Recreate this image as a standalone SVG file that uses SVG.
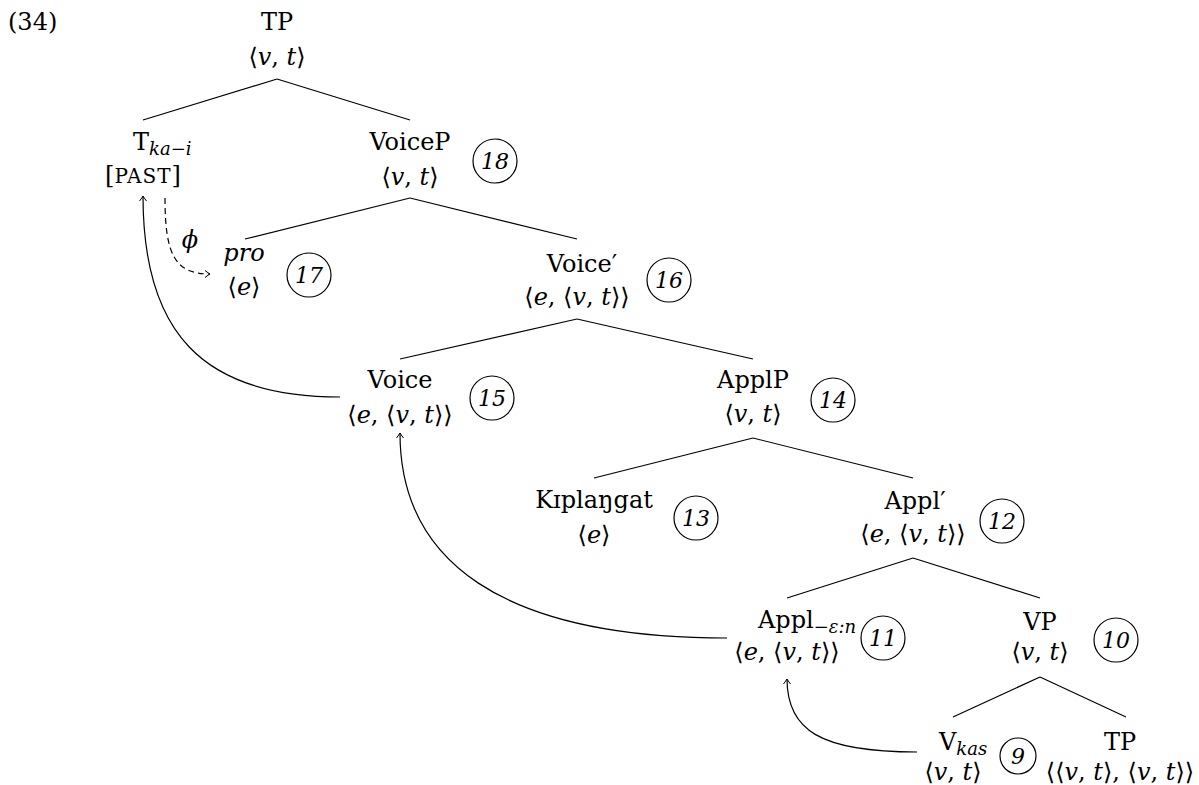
<svg xmlns="http://www.w3.org/2000/svg" width="1199" height="785" viewBox="0 0 1199 785">
<defs>
<style>
text{font-family:"DejaVu Serif","Liberation Serif",serif;font-size:24px;fill:#000}
.m{text-anchor:middle}
.i{font-style:italic}
.sub{font-size:18px;font-style:italic}
.sc{font-size:20px;letter-spacing:1px}
.num{font-style:italic;font-size:22px;text-anchor:middle}
.c{fill:none;stroke:#000;stroke-width:1.2}
.e{stroke:#000;stroke-width:1.2;fill:none}
.mv{stroke:#000;stroke-width:1.2;fill:none;marker-end:url(#ah)}
.dash{stroke-dasharray:6,4}
</style>
<marker id="ah" markerUnits="userSpaceOnUse" markerWidth="12" markerHeight="12" refX="0" refY="0" viewBox="-8 -6 10 12" orient="auto">
<path d="M-5,-3.5 Q-1.5,-0.8 0,0 Q-1.5,0.8 -5,3.5" fill="none" stroke="#000" stroke-width="1"/>
</marker>
</defs>
<text x="8" y="30" font-size="26">(34)</text>

<g id="connectors">
<line class="e" x1="277" y1="79" x2="143" y2="120"/>
<line class="e" x1="277" y1="79" x2="410" y2="120"/>
<line class="e" x1="410" y1="198" x2="245" y2="239"/>
<line class="e" x1="410" y1="198" x2="577" y2="239"/>
<line class="e" x1="577" y1="319" x2="400" y2="359"/>
<line class="e" x1="577" y1="319" x2="753" y2="359"/>
<line class="e" x1="753" y1="438" x2="594" y2="478"/>
<line class="e" x1="753" y1="438" x2="913" y2="478"/>
<line class="e" x1="913" y1="558" x2="787" y2="598"/>
<line class="e" x1="913" y1="558" x2="1040" y2="598"/>
<line class="e" x1="1040" y1="677" x2="953" y2="717"/>
<line class="e" x1="1040" y1="677" x2="1126" y2="717"/>
<path class="mv" d="M340,397 C200,397 143,330 143,196"/>
<path class="mv" d="M727,638 C500,638 400,560 400,433"/>
<path class="mv" d="M917,752 C820,752 787,730 787,679"/>
<path class="mv dash" d="M165,198 C165,255 175,274 210,274"/>
<text x="190" y="248" class="m i">ϕ</text>
</g>

<g id="TP">
<text x="277" y="30" class="m">TP</text>
<text x="277" y="65" class="m">⟨<tspan class="i">v</tspan>, <tspan class="i">t</tspan>⟩</text>
</g>
<g id="T">
<text x="133" y="150">T<tspan class="sub" dy="5">ka−i</tspan></text>
<text x="143" y="183" class="m">[<tspan class="sc">PAST</tspan>]</text>
</g>
<g id="VoiceP">
<text x="410" y="150" class="m">VoiceP</text>
<text x="410" y="185" class="m">⟨<tspan class="i">v</tspan>, <tspan class="i">t</tspan>⟩</text>
<circle class="c" cx="495" cy="161" r="22"/><text x="495" y="169" class="num">18</text>
</g>
<g id="pro">
<text x="244" y="261" class="m i">pro</text>
<text x="244" y="295" class="m">⟨<tspan class="i">e</tspan>⟩</text>
<circle class="c" cx="309" cy="275" r="22"/><text x="309" y="283" class="num">17</text>
</g>
<g id="VoiceBar">
<text x="582" y="272" class="m">Voice′</text>
<text x="577" y="305" class="m">⟨<tspan class="i">e</tspan>, ⟨<tspan class="i">v</tspan>, <tspan class="i">t</tspan>⟩⟩</text>
<circle class="c" cx="669" cy="280" r="22"/><text x="669" y="288" class="num">16</text>
</g>
<g id="Voice">
<text x="400" y="388" class="m">Voice</text>
<text x="400" y="423" class="m">⟨<tspan class="i">e</tspan>, ⟨<tspan class="i">v</tspan>, <tspan class="i">t</tspan>⟩⟩</text>
<circle class="c" cx="492" cy="398" r="22"/><text x="492" y="406" class="num">15</text>
</g>
<g id="ApplP">
<text x="753" y="388" class="m">ApplP</text>
<text x="753" y="422" class="m">⟨<tspan class="i">v</tspan>, <tspan class="i">t</tspan>⟩</text>
<circle class="c" cx="833" cy="400" r="22"/><text x="833" y="408" class="num">14</text>
</g>
<g id="Kiplangat">
<text x="594" y="508" class="m">Kɪplaŋgat</text>
<text x="594" y="543" class="m">⟨<tspan class="i">e</tspan>⟩</text>
<circle class="c" cx="696" cy="518" r="22"/><text x="696" y="526" class="num">13</text>
</g>
<g id="ApplBar">
<text x="915" y="509" class="m">Appl′</text>
<text x="913" y="542" class="m">⟨<tspan class="i">e</tspan>, ⟨<tspan class="i">v</tspan>, <tspan class="i">t</tspan>⟩⟩</text>
<circle class="c" cx="1002" cy="521" r="22"/><text x="1002" y="529" class="num">12</text>
</g>
<g id="Appl">
<text x="758" y="628">Appl<tspan class="sub" font-style="normal" dy="5">−ɛ:<tspan class="i">n</tspan></tspan></text>
<text x="787" y="660" class="m">⟨<tspan class="i">e</tspan>, ⟨<tspan class="i">v</tspan>, <tspan class="i">t</tspan>⟩⟩</text>
<circle class="c" cx="883" cy="638" r="22"/><text x="883" y="646" class="num">11</text>
</g>
<g id="VP">
<text x="1040" y="630" class="m">VP</text>
<text x="1040" y="660" class="m">⟨<tspan class="i">v</tspan>, <tspan class="i">t</tspan>⟩</text>
<circle class="c" cx="1116" cy="640" r="22"/><text x="1116" y="648" class="num">10</text>
</g>
<g id="V">
<text x="939" y="750">V<tspan class="sub" dy="5">kas</tspan></text>
<text x="953" y="780" class="m">⟨<tspan class="i">v</tspan>, <tspan class="i">t</tspan>⟩</text>
<circle class="c" cx="1018" cy="756" r="18"/><text x="1018" y="764" class="num">9</text>
</g>
<g id="TP2">
<text x="1120" y="750" class="m">TP</text>
<text x="1120" y="780" class="m">⟨⟨<tspan class="i">v</tspan>, <tspan class="i">t</tspan>⟩, ⟨<tspan class="i">v</tspan>, <tspan class="i">t</tspan>⟩⟩</text>
</g>
</svg>
